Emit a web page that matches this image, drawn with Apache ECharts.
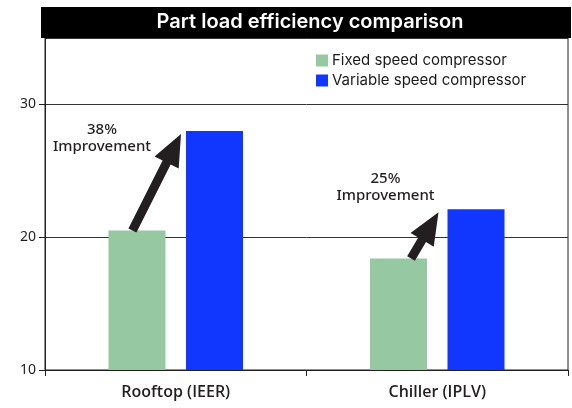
<!DOCTYPE html>
<html>
<head>
<meta charset="utf-8">
<script src="https://cdn.jsdelivr.net/npm/echarts@6/dist/echarts.min.js"></script>
<style>
  html, body { margin: 0; padding: 0; background: #fff; }
  #main { width: 572px; height: 408px; }
</style>
</head>
<body>
<div id="main"></div>
<script>
// data
var categories = ['Rooftop (IEER)', 'Chiller (IPLV)'];
var fixedSpeed = [20.5, 18.4];
var variableSpeed = [28.0, 22.1];
var improvementLabels = ['38%\nImprovement', '25%\nImprovement'];
var yTicks = [10, 20, 30];

// annotation layout (pixel offsets relative to the bars)
var tailFrac = [0.42, 0.72];
var tipOffset = [[-5, 3], [-9, 3]];
var labelOffset = [[-84, 7], [-62, -22]];

var ink = '#231f20';
var chart = echarts.init(document.getElementById('main'));

var option = {
  animation: false,
  backgroundColor: '#fff',
  textStyle: { fontFamily: 'Noto Sans' },
  grid: {
    left: 45, right: 4, top: 38, bottom: 38,
    show: true, borderColor: ink, borderWidth: 1
  },
  legend: {
    orient: 'vertical',
    left: 311, top: 48,
    itemWidth: 12, itemHeight: 12, itemGap: 5,
    icon: 'rect',
    textStyle: { color: '#1a1a1a', fontSize: 15, fontFamily: 'Inter', padding: [0, 0, 0, -1] },
    data: ['Fixed speed compressor', 'Variable speed compressor']
  },
  xAxis: {
    type: 'category',
    data: categories,
    axisLine: { lineStyle: { color: ink, width: 1 } },
    axisTick: { show: true, length: 6, lineStyle: { color: ink } },
    axisLabel: { color: ink, fontSize: 16, fontWeight: 600, margin: 14, fontFamily: 'Open Sans' }
  },
  yAxis: {
    type: 'value',
    min: 10, max: 35, interval: 10,
    axisLine: { show: true, lineStyle: { color: ink } },
    axisTick: { show: true, length: 6, lineStyle: { color: ink } },
    axisLabel: {
      color: ink, fontSize: 14, margin: 9, showMaxLabel: false,
      formatter: function (v) { return yTicks.indexOf(v) >= 0 ? v : ''; }
    },
    splitLine: { show: true, lineStyle: { color: '#333', width: 1 } }
  },
  series: [
    {
      name: 'Fixed speed compressor',
      type: 'bar',
      data: fixedSpeed,
      barWidth: 57,
      barGap: '36%',
      itemStyle: { color: '#96c8a2' }
    },
    {
      name: 'Variable speed compressor',
      type: 'bar',
      data: variableSpeed,
      barWidth: 57,
      itemStyle: { color: '#1136fe' }
    }
  ]
};
chart.setOption(option);

// arrow outline from tail to tip
function arrowPoints(x1, y1, x2, y2, shaft, headW, headL) {
  var dx = x2 - x1, dy = y2 - y1;
  var len = Math.sqrt(dx * dx + dy * dy);
  var ux = dx / len, uy = dy / len;
  var nx = -uy, ny = ux;
  var bx = x2 - ux * headL, by = y2 - uy * headL;
  return [
    [x1 + nx * shaft / 2, y1 + ny * shaft / 2],
    [bx + nx * shaft / 2, by + ny * shaft / 2],
    [bx + nx * headW / 2, by + ny * headW / 2],
    [x2, y2],
    [bx - nx * headW / 2, by - ny * headW / 2],
    [bx - nx * shaft / 2, by - ny * shaft / 2],
    [x1 - nx * shaft / 2, y1 - ny * shaft / 2]
  ];
}

var fixedData = chart.getModel().getSeriesByIndex(0).getData();
var varData = chart.getModel().getSeriesByIndex(1).getData();
var graphics = [
  { type: 'rect', shape: { x: 41, y: 7, width: 530, height: 31 }, style: { fill: '#000' }, z: 100 },
  {
    type: 'text', x: 310, y: 22, z: 101,
    style: {
      text: 'Part load efficiency comparison', fill: '#fff',
      font: '600 20px Inter', textAlign: 'center', textVerticalAlign: 'middle'
    }
  }
];
for (var i = 0; i < categories.length; i++) {
  var g = fixedData.getItemLayout(i);
  var b = varData.getItemLayout(i);
  var gTop = Math.min(g.y, g.y + g.height);
  var bTop = Math.min(b.y, b.y + b.height);
  var x1 = g.x + g.width * tailFrac[i], y1 = gTop;
  var x2 = b.x + tipOffset[i][0], y2 = bTop + tipOffset[i][1];
  graphics.push({
    type: 'polygon', z: 50,
    shape: { points: arrowPoints(x1, y1, x2, y2, 9, 27, 32) },
    style: { fill: ink }
  });
  graphics.push({
    type: 'text', z: 50,
    x: b.x + labelOffset[i][0], y: bTop + labelOffset[i][1],
    style: {
      text: improvementLabels[i], fill: ink, font: '500 15px "Noto Sans"',
      textAlign: 'center', textVerticalAlign: 'middle', lineHeight: 17
    }
  });
}
chart.setOption({ graphic: graphics });
</script>
</body>
</html>
